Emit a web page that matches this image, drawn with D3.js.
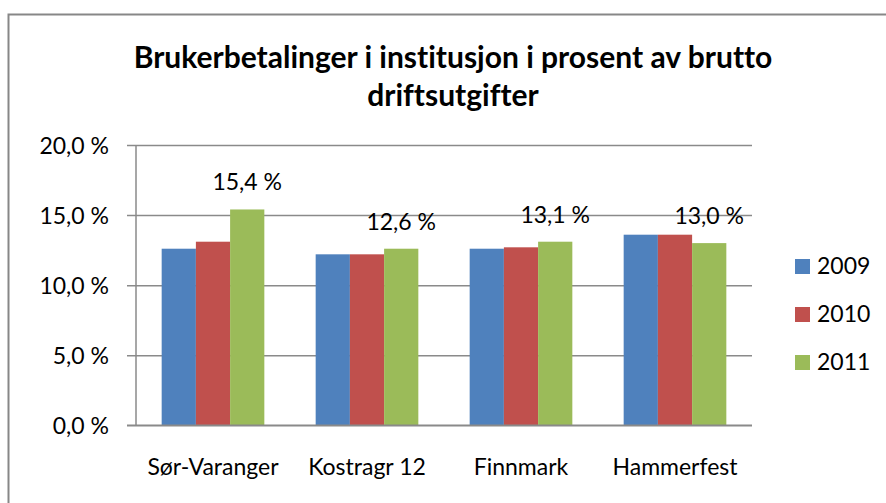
<!DOCTYPE html>
<html>
<head>
<meta charset="utf-8">
<script src="https://cdn.jsdelivr.net/npm/d3@7"></script>
<style>
  html, body { margin: 0; padding: 0; background: #fff; }
  svg { display: block; }
  text { font-family: Lato, "Open Sans", sans-serif; fill: #000; font-variant-ligatures: none; }
</style>
</head>
<body>
<div id="chart"></div>
<script>
// Categories, series and axis ticks
const categories = ["Sør-Varanger", "Kostragr 12", "Finnmark", "Hammerfest"];
const seriesNames = ["2009", "2010", "2011"];
const values2009 = [12.6, 12.2, 12.6, 13.6];
const values2010 = [13.1, 12.2, 12.7, 13.6];
const values2011 = [15.4, 12.6, 13.1, 13.0];
const yTicks = [0, 5, 10, 15, 20];
const colors = ["#4f81bd", "#c0504d", "#9bbb59"];

const series = [values2009, values2010, values2011];
const labelledSeries = 2; // only the 2011 bars carry value labels

const W = 886, H = 503;
const plot = { left: 136, right: 752, top: 145, bottom: 425.3 };
const fmt = v => d3.format(".1f")(v).replace(".", ",") + " %";

const svg = d3.select("#chart").append("svg")
  .attr("width", W).attr("height", H);

// chart frame (right and bottom edges run past the page)
svg.append("rect")
  .attr("x", 8.5).attr("y", 14.5)
  .attr("width", W + 20).attr("height", H + 20)
  .attr("fill", "#fff").attr("stroke", "#878787").attr("stroke-width", 2);

// title
const title = svg.append("text")
  .attr("text-anchor", "middle")
  .attr("font-weight", "bold")
  .attr("font-size", 30);
title.append("tspan").attr("x", 453).attr("y", 68)
  .text("Brukerbetalinger i institusjon i prosent av brutto");
title.append("tspan").attr("x", 453).attr("y", 106)
  .text("driftsutgifter");

// one band per category; bars fill 3 of 4.5 units (gap width 150%)
const x0 = d3.scaleBand().domain(categories).range([plot.left, plot.right]);
const barW = x0.bandwidth() / 4.5;
const x1 = d3.scaleBand().domain(d3.range(series.length))
  .range([0, barW * series.length]);

const y = d3.scaleLinear().domain([0, 20]).range([plot.bottom, plot.top]);

// gridlines + y axis labels
const yAxis = d3.axisLeft(y).tickValues(yTicks)
  .tickSize(-(plot.right - plot.left))
  .tickFormat(fmt);
const gy = svg.append("g").attr("transform", `translate(${plot.left},0)`).call(yAxis);
gy.select(".domain").remove();
gy.selectAll(".tick line").attr("stroke", "#8a8a8a").attr("stroke-width", 1.5)
  .attr("x1", -9);
gy.selectAll(".tick text").attr("x", -27).attr("dy", "0.36em")
  .attr("font-size", 23).attr("fill", "#000");

// bars and value labels
categories.forEach((c, ci) => {
  const gx = x0(c) + (x0.bandwidth() - barW * series.length) / 2;
  series.forEach((vals, si) => {
    svg.append("rect")
      .attr("x", gx + x1(si))
      .attr("y", y(vals[ci]))
      .attr("width", x1.bandwidth())
      .attr("height", y(0) - y(vals[ci]))
      .attr("fill", colors[si]);
  });
  const v = series[labelledSeries][ci];
  svg.append("text")
    .attr("x", gx + x1(labelledSeries) + x1.bandwidth() / 2)
    .attr("y", y(v) - 19)
    .attr("text-anchor", "middle")
    .attr("font-size", 23)
    .text(fmt(v));
});

// vertical axis line and baseline
svg.append("line").attr("x1", plot.left).attr("x2", plot.left)
  .attr("y1", plot.top).attr("y2", plot.bottom)
  .attr("stroke", "#8a8a8a").attr("stroke-width", 1.5);
svg.append("line").attr("x1", plot.left - 9).attr("x2", plot.right)
  .attr("y1", plot.bottom).attr("y2", plot.bottom)
  .attr("stroke", "#8a8a8a").attr("stroke-width", 1.5);

// category labels
const xAxis = d3.axisBottom(x0).tickSize(0).tickPadding(0);
const gxAxis = svg.append("g").attr("transform", `translate(0,${plot.bottom})`).call(xAxis);
gxAxis.select(".domain").remove();
gxAxis.selectAll(".tick text").attr("y", 50).attr("dy", 0)
  .attr("font-size", 23).attr("fill", "#000");

// legend
const legend = svg.append("g");
seriesNames.forEach((name, i) => {
  const ly = 259 + i * 48;
  legend.append("rect").attr("x", 795).attr("y", ly)
    .attr("width", 15).attr("height", 15).attr("fill", colors[i]);
  legend.append("text").attr("x", 817).attr("y", ly + 15)
    .attr("font-size", 23).text(name);
});
</script>
</body>
</html>
